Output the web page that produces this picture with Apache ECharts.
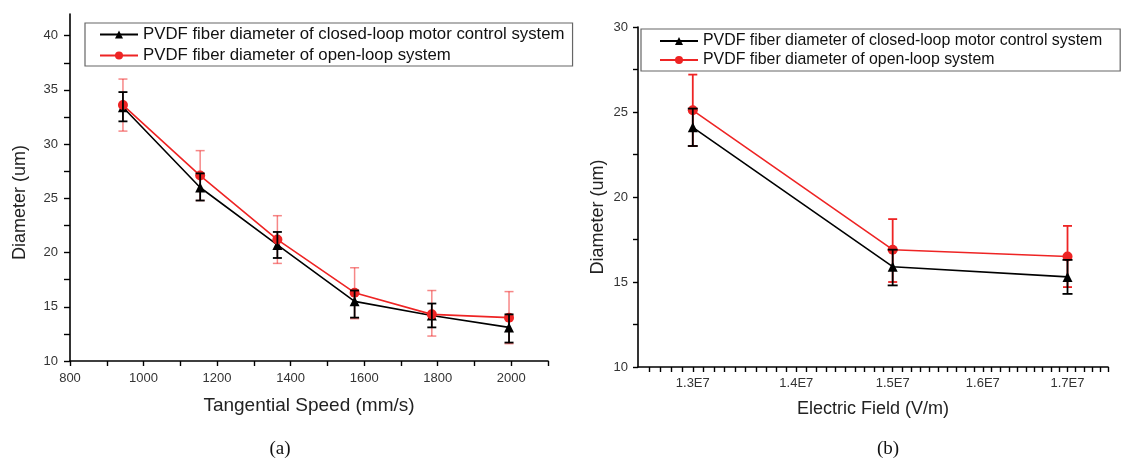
<!DOCTYPE html>
<html>
<head>
<meta charset="utf-8">
<script src="https://cdn.jsdelivr.net/npm/echarts@6/dist/echarts.min.js"></script>
<style>
html, body { margin: 0; padding: 0; background: #fff; }
#main { width: 1121px; height: 461px; }
</style>
</head>
<body>
<div id="main"></div>
<script>
const nameClosed = 'PVDF fiber diameter of closed-loop motor control system';
const nameOpen = 'PVDF fiber diameter of open-loop system';

// (a) diameter vs tangential speed
const speedA = [944, 1154, 1364, 1574, 1784, 1994];
const closedA = [33.4, 26.0, 20.7, 15.5, 14.2, 13.1];
const closedLowA = [32.1, 24.8, 19.5, 14.0, 13.1, 11.7];
const closedHighA = [34.8, 27.3, 21.9, 16.5, 15.3, 14.3];
const openA = [33.6, 27.1, 21.2, 16.3, 14.3, 14.0];
const openLowA = [31.2, 24.8, 19.0, 13.9, 12.3, 11.6];
const openHighA = [36.0, 29.4, 23.4, 18.6, 16.5, 16.4];

// (b) diameter vs electric field
const fieldB = [1.3e7, 1.5e7, 1.7e7];
const closedB = [24.1, 15.9, 15.3];
const closedLowB = [23.0, 14.8, 14.3];
const closedHighB = [25.2, 16.9, 16.3];
const openB = [25.1, 16.9, 16.5];
const openLowB = [23.0, 15.0, 14.7];
const openHighB = [27.2, 18.7, 18.3];

// tick labels
const xLabelsA = [800, 1000, 1200, 1400, 1600, 1800, 2000];
const xTicksA = [800, 900, 1000, 1100, 1200, 1300, 1400, 1500, 1600, 1700, 1800, 1900, 2000, 2100];
const yLabelsA = [10, 15, 20, 25, 30, 35, 40];
const yTicksA = [10, 12.5, 15, 17.5, 20, 22.5, 25, 27.5, 30, 32.5, 35, 37.5, 40];
const xLabelsB = [1.3e7, 1.4e7, 1.5e7, 1.6e7, 1.7e7];
const yLabelsB = [10, 15, 20, 25, 30];
const yTicksB = [10, 12.5, 15, 17.5, 20, 22.5, 25, 27.5, 30];
const xTicksB = [];
for (let k = 126; k <= 175; k++) xTicksB.push(k * 1e5);

const FONT = '"Liberation Sans", Arial, sans-serif';
const RED = '#ee2424';

function errorBars(xs, lows, highs, color, width, cap, axisIdx, z) {
    return {
        type: 'custom',
        xAxisIndex: axisIdx,
        yAxisIndex: axisIdx,
        z: z,
        silent: true,
        data: xs.map((x, i) => [x, lows[i], highs[i]]),
        encode: { x: 0, y: [1, 2] },
        renderItem: function (params, api) {
            const lo = api.coord([api.value(0), api.value(1)]);
            const hi = api.coord([api.value(0), api.value(2)]);
            const style = { stroke: color, lineWidth: width, fill: null };
            return {
                type: 'group',
                children: [
                    { type: 'line', shape: { x1: hi[0], y1: hi[1], x2: lo[0], y2: lo[1] }, style: style },
                    { type: 'line', shape: { x1: hi[0] - cap, y1: hi[1], x2: hi[0] + cap, y2: hi[1] }, style: style },
                    { type: 'line', shape: { x1: lo[0] - cap, y1: lo[1], x2: lo[0] + cap, y2: lo[1] }, style: style }
                ]
            };
        }
    };
}

function lineSeries(name, xs, ys, color, symbol, axisIdx, z) {
    return {
        name: name,
        type: 'line',
        xAxisIndex: axisIdx,
        yAxisIndex: axisIdx,
        z: z,
        data: xs.map((x, i) => [x, ys[i]]),
        symbol: symbol,
        symbolSize: 10,
        lineStyle: { color: color, width: 1.6 },
        itemStyle: { color: color },
        animation: false
    };
}

const axisCommon = {
    axisLine: { lineStyle: { color: '#000', width: 1.6 } },
    splitLine: { show: false },
    nameLocation: 'middle'
};

function legendBox(left, top, padding, gap, fontSize) {
    return {
        data: [nameClosed, nameOpen],
        orient: 'vertical',
        left: left,
        top: top,
        itemWidth: 38,
        itemHeight: 10,
        itemGap: gap,
        padding: padding,
        borderColor: '#666',
        borderWidth: 1.2,
        textStyle: { fontSize: fontSize, color: '#111', fontFamily: FONT }
    };
}

const chart = echarts.init(document.getElementById('main'));
chart.setOption({
    animation: false,
    backgroundColor: '#fff',
    textStyle: { fontFamily: FONT },
    grid: [
        { left: 70, top: 14, width: 478, height: 347, outerBoundsMode: 'none' },
        { left: 638, top: 27, width: 470, height: 340, outerBoundsMode: 'none' }
    ],
    legend: [
        legendBox(85, 23, [3, 8, 2, 14], 4, 16.8),
        legendBox(641, 29, [4, 18, 3, 18], 3, 15.9)
    ],
    xAxis: [
        Object.assign({}, axisCommon, {
            type: 'value', gridIndex: 0, min: 800, max: 2100,
            name: 'Tangential Speed (mm/s)', nameGap: 35,
            nameTextStyle: { fontSize: 19, color: '#222', fontFamily: FONT },
            axisTick: { customValues: xTicksA, length: 5, lineStyle: { color: '#000', width: 1.4 } },
            axisLabel: { customValues: xLabelsA, margin: 11, fontSize: 13, color: '#333', formatter: v => String(v) }
        }),
        Object.assign({}, axisCommon, {
            type: 'log', logBase: 10, gridIndex: 1, min: 1.25e7, max: 1.75e7,
            name: 'Electric Field (V/m)', nameGap: 33,
            nameTextStyle: { fontSize: 18, color: '#222', fontFamily: FONT },
            axisTick: { customValues: xTicksB, length: 5, lineStyle: { color: '#000', width: 1.4 } },
            axisLabel: {
                customValues: xLabelsB, margin: 10, fontSize: 13, color: '#333',
                formatter: v => (v / 1e7).toFixed(1) + 'E7'
            }
        })
    ],
    yAxis: [
        Object.assign({}, axisCommon, {
            type: 'value', gridIndex: 0, min: 10, max: 42,
            name: 'Diameter (um)', nameGap: 41,
            nameTextStyle: { fontSize: 18, color: '#222', fontFamily: FONT, padding: [0, 30, 0, 0] },
            axisTick: { customValues: yTicksA, length: 6, lineStyle: { color: '#000', width: 1.4 } },
            axisLabel: { customValues: yLabelsA, margin: 12, fontSize: 13, color: '#333' }
        }),
        Object.assign({}, axisCommon, {
            type: 'value', gridIndex: 1, min: 10, max: 30,
            name: 'Diameter (um)', nameGap: 31,
            nameTextStyle: { fontSize: 18, color: '#222', fontFamily: FONT, padding: [0, 40, 0, 0] },
            axisTick: { customValues: yTicksB, length: 5, lineStyle: { color: '#000', width: 1.4 } },
            axisLabel: { customValues: yLabelsB, margin: 10, fontSize: 13, color: '#333' }
        })
    ],
    series: [
        errorBars(speedA, openLowA, openHighA, 'rgba(238,36,36,0.55)', 1.5, 4.5, 0, 1),
        lineSeries(nameClosed, speedA, closedA, '#000', 'triangle', 0, 2),
        lineSeries(nameOpen, speedA, openA, RED, 'circle', 0, 2),
        errorBars(speedA, closedLowA, closedHighA, '#000', 1.8, 4.5, 0, 3),

        errorBars(fieldB, openLowB, openHighB, RED, 1.8, 4.5, 1, 1),
        lineSeries(nameClosed, fieldB, closedB, '#000', 'triangle', 1, 2),
        lineSeries(nameOpen, fieldB, openB, RED, 'circle', 1, 2),
        errorBars(fieldB, closedLowB, closedHighB, '#000', 1.8, 5, 1, 3)
    ],
    graphic: [
        { type: 'text', x: 280, y: 449, style: { text: '(a)', fontFamily: '"Liberation Serif", serif', fontSize: 19, fill: '#111', align: 'center', verticalAlign: 'middle' } },
        { type: 'text', x: 888, y: 449, style: { text: '(b)', fontFamily: '"Liberation Serif", serif', fontSize: 19, fill: '#111', align: 'center', verticalAlign: 'middle' } }
    ]
});
</script>
</body>
</html>
